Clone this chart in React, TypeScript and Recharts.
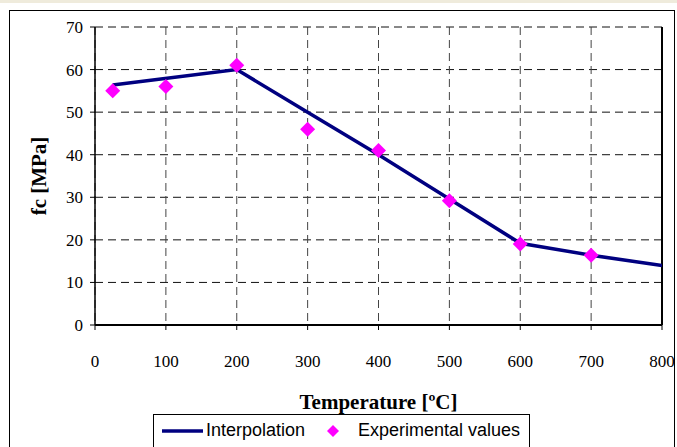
import React from 'react';
import {
  ComposedChart, Line, Scatter, XAxis, YAxis, CartesianGrid, Legend, ReferenceLine,
} from 'recharts';

const interpTemps = [25, 200, 300, 400, 500, 600, 700, 800];
const interpValues = [56.4, 60, 50, 40, 29.6, 19.2, 16.4, 14];
const expTemps = [25, 100, 200, 300, 400, 500, 600, 700];
const expValues = [55, 56, 61, 46, 41, 29.2, 19, 16.4];
const xTicks = [0, 100, 200, 300, 400, 500, 600, 700, 800];
const yTicks = [0, 10, 20, 30, 40, 50, 60, 70];

const interpData = interpTemps.map((t, i) => ({ t, v: interpValues[i] }));
const expData = expTemps.map((t, i) => ({ t, v: expValues[i] }));

const NAVY = '#000080';
const MAGENTA = '#FF00FF';
const SERIF = '"Liberation Serif", "Times New Roman", serif';
const SANS = '"Liberation Sans", Arial, sans-serif';

const Diamond = (props: any) => {
  const { cx, cy } = props;
  if (cx == null || cy == null) return null;
  const r = 7.5;
  return (
    <polygon
      points={`${cx},${cy - r} ${cx + r},${cy} ${cx},${cy + r} ${cx - r},${cy}`}
      fill={MAGENTA}
    />
  );
};

const LegendContent = () => (
  <div
    style={{
      border: '1px solid #000',
      height: 40,
      boxSizing: 'border-box',
      background: '#fff',
      fontFamily: SANS,
      fontSize: 18,
      color: '#000',
      position: 'relative',
    }}
  >
    <svg width={60} height={30} style={{ position: 'absolute', left: 6, top: 0 }}>
      <line x1={2} y1={16} x2={43} y2={16} stroke={NAVY} strokeWidth={3.5} />
    </svg>
    <span style={{ position: 'absolute', left: 52, top: 5, whiteSpace: 'nowrap' }}>Interpolation</span>
    <svg width={20} height={30} style={{ position: 'absolute', left: 169, top: 0 }}>
      <polygon points="10,10 16,16 10,22 4,16" fill={MAGENTA} />
    </svg>
    <span style={{ position: 'absolute', left: 204, top: 5, whiteSpace: 'nowrap' }}>Experimental values</span>
  </div>
);

export default function App() {
  return (
    <div style={{ position: 'absolute', left: 0, top: 0, width: 677, height: 447, overflow: 'hidden', background: '#fff' }}>
      <div style={{ position: 'absolute', left: 0, top: 0, width: 677, height: 3, background: '#EFEBDC' }} />
      <div
        style={{
          position: 'absolute', left: 9, top: 10, width: 666, height: 460,
          border: '1.5px solid #000', boxSizing: 'border-box',
        }}
      />
      <div style={{ position: 'absolute', left: 0, top: 0 }}>
        <ComposedChart width={677} height={447} margin={{ top: 27, right: 15, left: 0, bottom: 0 }}>
          <CartesianGrid horizontal={true} vertical={false} stroke="#111" strokeDasharray="8 5" strokeWidth={1} />
          <CartesianGrid horizontal={false} vertical={true} stroke="#444" strokeDasharray="8 5" strokeWidth={1} />
          <XAxis
            dataKey="t"
            type="number"
            domain={[0, 800]}
            ticks={xTicks}
            allowDataOverflow
            height={82}
            tickSize={5}
            tickMargin={25}
            axisLine={{ stroke: '#000', strokeWidth: 2 }}
            tickLine={{ stroke: '#000' }}
            tick={{ fill: '#000', fontFamily: SERIF, fontSize: 17 }}
            label={{
              value: 'Temperature [ºC]',
              position: 'insideBottom',
              offset: -2,
              style: { fontFamily: SERIF, fontSize: 21, fontWeight: 'bold', fill: '#000' },
            }}
          />
          <YAxis
            type="number"
            domain={[0, 70]}
            ticks={yTicks}
            width={95}
            tickSize={5}
            tickMargin={7}
            axisLine={{ stroke: '#000', strokeWidth: 1.5 }}
            tickLine={{ stroke: '#000' }}
            tick={{ fill: '#000', fontFamily: SERIF, fontSize: 17 }}
            label={{
              value: 'fc [MPa]',
              angle: -90,
              position: 'insideLeft',
              offset: 39,
              style: { textAnchor: 'middle', fontFamily: SERIF, fontSize: 21, fontWeight: 'bold', fill: '#000' },
            }}
          />
          <ReferenceLine x={800} stroke="#000" strokeWidth={2} />
          <Line
            data={interpData}
            dataKey="v"
            type="linear"
            stroke={NAVY}
            strokeWidth={3.5}
            dot={false}
            isAnimationActive={false}
            name="Interpolation"
          />
          <Scatter
            data={expData}
            dataKey="v"
            fill={MAGENTA}
            shape={<Diamond />}
            isAnimationActive={false}
            name="Experimental values"
          />
          <Legend
            layout="vertical"
            align="center"
            verticalAlign="bottom"
            content={<LegendContent />}
            wrapperStyle={{ position: 'absolute', left: 153, top: 414, width: 377, height: 40, bottom: 'auto' }}
          />
        </ComposedChart>
      </div>
    </div>
  );
}
